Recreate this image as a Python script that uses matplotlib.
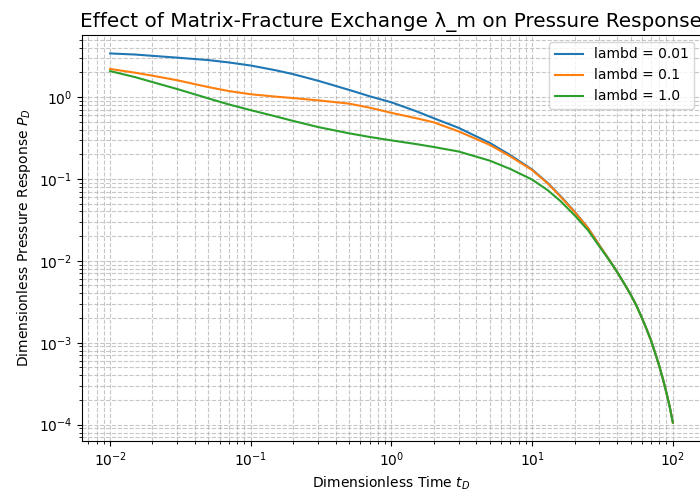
import matplotlib
matplotlib.use("Agg")
import matplotlib.pyplot as plt

# dimensionless time
t_D = [0.01, 0.015, 0.02, 0.03, 0.05, 0.07, 0.1, 0.15, 0.2, 0.3, 0.5, 0.7,
       1, 1.5, 2, 3, 5, 7, 10, 13, 16, 20, 25, 30, 35, 40, 45, 50, 55, 60,
       65, 70, 75, 80, 85, 90, 95, 100]

# pressure response, one list per lambda
p_lam001 = [3.4, 3.3, 3.18, 3.02, 2.82, 2.64, 2.42, 2.12, 1.9, 1.58, 1.22,
            1.02, 0.86, 0.67, 0.55, 0.42, 0.275, 0.195, 0.13, 0.088, 0.061,
            0.040, 0.025, 0.0155, 0.0105, 0.0074, 0.0053, 0.0039, 0.00285,
            0.00204, 0.00147, 0.00106, 0.00074, 0.00052, 0.00036, 0.000245,
            0.000165, 0.000106]
p_lam01 = [2.2, 1.98, 1.82, 1.6, 1.32, 1.18, 1.08, 1.01, 0.97, 0.91, 0.83,
           0.74, 0.64, 0.55, 0.49, 0.38, 0.26, 0.188, 0.128, 0.087, 0.060,
           0.0395, 0.025, 0.0155, 0.0105, 0.0074, 0.0053, 0.0039, 0.00285,
           0.00204, 0.00147, 0.00106, 0.00074, 0.00052, 0.00036, 0.000245,
           0.000165, 0.000106]
p_lam1 = [2.07, 1.75, 1.52, 1.25, 0.96, 0.81, 0.69, 0.58, 0.51, 0.43, 0.36,
          0.325, 0.295, 0.266, 0.245, 0.216, 0.167, 0.132, 0.098, 0.072,
          0.053, 0.036, 0.0235, 0.0150, 0.0104, 0.0074, 0.0053, 0.0039,
          0.00285, 0.00204, 0.00147, 0.00106, 0.00074, 0.00052, 0.00036,
          0.000245, 0.000165, 0.000106]

labels = ["lambd = 0.01", "lambd = 0.1", "lambd = 1.0"]
series = [p_lam001, p_lam01, p_lam1]

fig = plt.figure(figsize=(7, 4.93), dpi=100)
ax = fig.add_axes([82 / 700, 1 - 441 / 493, 619 / 700, 406 / 493])

for p, lab in zip(series, labels):
    ax.plot(t_D, p, label=lab)

ax.set_xscale("log")
ax.set_yscale("log")
ax.set_xlabel("Dimensionless Time $t_D$")
ax.set_ylabel("Dimensionless Pressure Response $P_D$")
ax.set_title("Effect of Matrix-Fracture Exchange λ_m on Pressure Response", fontsize=14.4)
ax.grid(True, which="both", ls="--", alpha=0.7)
ax.legend(loc="upper right")

fig.savefig("out.png", dpi=100)
